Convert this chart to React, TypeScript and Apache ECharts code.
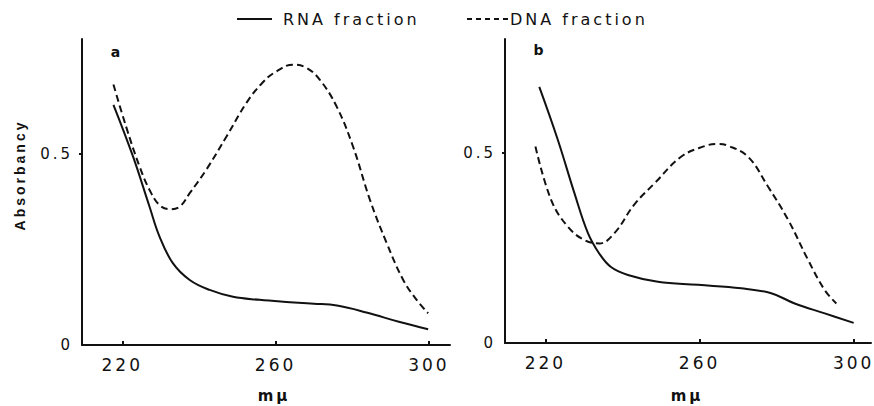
import React, { useEffect, useRef } from "react";
import * as echarts from "echarts";

// Panel a
const aRnaWave = [217.7, 222.8, 227.1, 229.7, 233.2, 237.6, 242.8, 248.9, 255.8, 262.0, 270.0, 276.0, 283.7, 292.4, 299.8];
const aRnaAbs = [0.628, 0.493, 0.362, 0.284, 0.214, 0.170, 0.144, 0.126, 0.118, 0.113, 0.108, 0.103, 0.085, 0.060, 0.041];
const aDnaWave = [217.7, 221.0, 224.5, 227.1, 229.7, 232.3, 235.0, 237.6, 241.9, 247.2, 252.4, 256.5, 260.0, 264.5, 268.0, 271.5, 275.9, 280.2, 284.6, 289.0, 293.3, 296.8, 299.8];
const aDnaAbs = [0.681, 0.571, 0.467, 0.406, 0.366, 0.355, 0.362, 0.397, 0.458, 0.545, 0.633, 0.685, 0.714, 0.733, 0.725, 0.694, 0.624, 0.519, 0.380, 0.266, 0.170, 0.118, 0.083];
// Panel b
const bRnaWave = [218.4, 223.2, 227.5, 231.0, 234.0, 237.0, 241.4, 249.2, 259.6, 270.8, 278.6, 284.7, 292.5, 300.0];
const bRnaAbs = [0.674, 0.535, 0.395, 0.290, 0.235, 0.200, 0.179, 0.161, 0.153, 0.144, 0.131, 0.104, 0.078, 0.053];
const bDnaWave = [217.4, 221.5, 225.8, 230.1, 234.0, 237.9, 243.1, 248.3, 255.2, 261.3, 264.5, 267.4, 272.6, 277.8, 283.0, 288.2, 292.5, 295.5];
const bDnaAbs = [0.517, 0.376, 0.306, 0.271, 0.262, 0.289, 0.365, 0.420, 0.490, 0.518, 0.524, 0.519, 0.490, 0.411, 0.324, 0.218, 0.139, 0.104];

const xTicks = [220, 260, 300];
const yTicks = [0, 0.5];
const seriesNames = ["RNA fraction", "DNA fraction"];
const panelLetters = ["a", "b"];
const yTitle = "Absorbancy";
const xTitle = "mμ";

const FONT = "DejaVu Sans";
const INK = "#111";

const zip = (xs: number[], ys: number[]) => xs.map((x, i) => [x, ys[i]]);

export default function App() {
  const ref = useRef<HTMLDivElement>(null);
  useEffect(() => {
    if (!ref.current) return;
    const chart = echarts.init(ref.current, null, { renderer: "svg" });
    const xAxisBase = (gridIndex: number, max: number) => ({
      type: "value" as const,
      gridIndex,
      min: 209.5,
      max,
      axisLine: { show: true, lineStyle: { color: INK, width: 2 } },
      axisTick: { show: true, inside: true, length: 4, customValues: xTicks, lineStyle: { color: INK, width: 2 } },
      axisLabel: { customValues: xTicks, color: INK, fontFamily: FONT, fontSize: 17, margin: 11 },
      splitLine: { show: false },
    });
    const yAxisBase = (gridIndex: number) => ({
      type: "value" as const,
      gridIndex,
      min: 0,
      max: 0.8,
      axisLine: { show: true, onZero: false, lineStyle: { color: INK, width: 2 } },
      axisTick: { show: true, length: 3, customValues: [0.5], lineStyle: { color: INK, width: 2 } },
      axisLabel: {
        customValues: yTicks,
        color: INK,
        fontFamily: FONT,
        fontSize: 15,
        margin: 9,
        formatter: (v: number) => (v === 0 ? "0" : String(v)),
      },
      splitLine: { show: false },
    });
    const lineSeries = (name: string, idx: number, data: number[][], dashed: boolean) => ({
      type: "line" as const,
      name,
      xAxisIndex: idx,
      yAxisIndex: idx,
      data,
      smooth: 0.4,
      symbol: "none",
      lineStyle: { color: INK, width: 2, type: dashed ? [7, 4] : "solid" },
    });
    chart.setOption({
      animation: false,
      backgroundColor: "#fff",
      grid: [
        { left: 82, top: 39, width: 368, height: 306 },
        { left: 505, top: 39, width: 366, height: 304 },
      ],
      xAxis: [xAxisBase(0, 305.5), xAxisBase(1, 304.5)],
      yAxis: [yAxisBase(0), yAxisBase(1)],
      series: [
        lineSeries(seriesNames[0], 0, zip(aRnaWave, aRnaAbs), false),
        lineSeries(seriesNames[1], 0, zip(aDnaWave, aDnaAbs), true),
        lineSeries(seriesNames[0], 1, zip(bRnaWave, bRnaAbs), false),
        lineSeries(seriesNames[1], 1, zip(bDnaWave, bDnaAbs), true),
      ],
      graphic: [
        { type: "line", shape: { x1: 237, y1: 19, x2: 272, y2: 19 }, style: { stroke: INK, lineWidth: 2 } },
        { type: "text", x: 283, y: 19, style: { text: seriesNames[0], fill: INK, font: `16px ${FONT}`, verticalAlign: "middle" } },
        { type: "line", shape: { x1: 467, y1: 19, x2: 508, y2: 19 }, style: { stroke: INK, lineWidth: 2, lineDash: [5, 4] } },
        { type: "text", x: 510, y: 19, style: { text: seriesNames[1], fill: INK, font: `16px ${FONT}`, verticalAlign: "middle" } },
        { type: "text", x: 117, y: 52, style: { text: panelLetters[0], fill: INK, font: `bold 14px ${FONT}`, align: "center", verticalAlign: "middle" } },
        { type: "text", x: 540, y: 50, style: { text: panelLetters[1], fill: INK, font: `bold 14px ${FONT}`, align: "center", verticalAlign: "middle" } },
        { type: "text", x: 20, y: 175, rotation: Math.PI / 2, style: { text: yTitle, fill: INK, font: `bold 14px "Liberation Sans"`, align: "center", verticalAlign: "middle" } },
        { type: "text", x: 274, y: 396, style: { text: xTitle, fill: INK, font: `bold 15px ${FONT}`, align: "center", verticalAlign: "middle" } },
        { type: "text", x: 687, y: 396, style: { text: xTitle, fill: INK, font: `bold 15px ${FONT}`, align: "center", verticalAlign: "middle" } },
      ],
    });
    return () => chart.dispose();
  }, []);
  return (
    <div
      ref={ref}
      style={{ position: "fixed", left: 0, top: 0, width: 874, height: 406, letterSpacing: "3px" }}
    />
  );
}
